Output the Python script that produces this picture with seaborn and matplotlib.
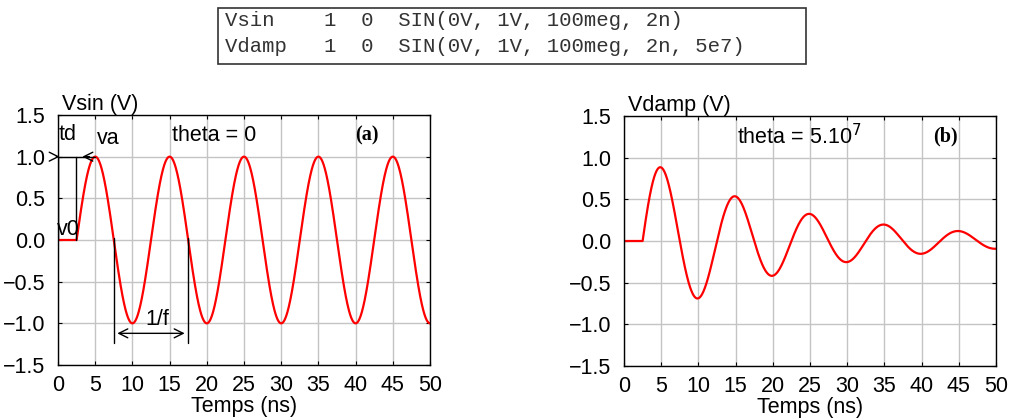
import numpy as np
import pandas as pd
import seaborn as sns
import matplotlib
matplotlib.use("Agg")
import matplotlib.pyplot as plt
from matplotlib.patches import Rectangle

# SPICE SIN source parameters for the two waveforms
sources = ["Vsin", "Vdamp"]
v0 = [0.0, 0.0]              # offset (V)
va = [1.0, 1.0]              # amplitude (V)
freq_hz = [100e6, 100e6]     # frequency
td_ns = [2.5, 2.5]           # delay before the sine starts
theta = [0.0, 5e7]           # damping factor (1/s)

netlist = [
    "Vsin    1  0  SIN(0V, 1V, 100meg, 2n)",
    "Vdamp   1  0  SIN(0V, 1V, 100meg, 2n, 5e7)",
]
ylabels = ["Vsin (V)", "Vdamp (V)"]
xticks = [0, 5, 10, 15, 20, 25, 30, 35, 40, 45, 50]
yticks = [-1.5, -1.0, -0.5, 0.0, 0.5, 1.0, 1.5]

t_ns = np.linspace(0, 50, 2001)


def spice_sin(t, off, amp, f, td, th):
    """Transient value of a SPICE SIN(VO VA FREQ TD THETA) source, t in ns."""
    tt = (t - td) * 1e-9
    v = off + amp * np.exp(-tt * th) * np.sin(2 * np.pi * f * tt)
    return np.where(t < td, off, v)


frames = []
for i, name in enumerate(sources):
    frames.append(pd.DataFrame({
        "t": t_ns,
        "v": spice_sin(t_ns, v0[i], va[i], freq_hz[i], td_ns[i], theta[i]),
        "source": name,
    }))
data = pd.concat(frames, ignore_index=True)

sns.set_style("whitegrid", {"grid.color": "#c4c4c4", "axes.edgecolor": "black"})
plt.rcParams["font.family"] = ["Liberation Sans", "DejaVu Sans"]
plt.rcParams["axes.unicode_minus"] = True
plt.rcParams["text.color"] = "black"
plt.rcParams["xtick.color"] = "black"
plt.rcParams["ytick.color"] = "black"
plt.rcParams["axes.labelcolor"] = "black"

FS = 15.5

fig = plt.figure(figsize=(10.09, 4.19), dpi=100)
W, H = 1009, 419


def add_axes_px(x0, y0, x1, y1):
    return fig.add_axes([x0 / W, 1 - y1 / H, (x1 - x0) / W, (y1 - y0) / H])


axes = [add_axes_px(58, 115, 430, 365), add_axes_px(624, 116, 996, 366)]

for i, ax in enumerate(axes):
    sub = data[data["source"] == sources[i]]
    sns.lineplot(data=sub, x="t", y="v", ax=ax, color="#ff0000", linewidth=1.6,
                 legend=False)
    ax.set_xlim(0, 50)
    ax.set_ylim(-1.5, 1.5)
    ax.set_xticks(xticks)
    ax.set_yticks(yticks)
    ax.set_xticklabels([str(x) for x in xticks])
    ax.set_yticklabels([f"{y:.1f}".replace("-", "\u2212") for y in yticks])
    ax.grid(True, color="#c4c4c4", linewidth=1.0)
    ax.tick_params(axis="both", which="both", direction="in", length=3,
                   width=0.8, color="black", labelsize=FS, top=True, right=True,
                   left=True, bottom=True)
    ax.tick_params(axis="y", pad=9)
    ax.tick_params(axis="x", pad=7)
    for s in ax.spines.values():
        s.set_color("black")
        s.set_linewidth(1.0)
    ax.set_xlabel("Temps (ns)", fontsize=FS, labelpad=0)
    ax.set_ylabel("")
    ax.text(0.01, 1.0, ylabels[i], transform=ax.transAxes, fontsize=FS,
            ha="left", va="bottom")

# Panel (a) annotations
a = axes[0]
a.text(0.1, 1.27, "td", fontsize=FS, va="center", ha="left")
a.text(5.2, 1.22, "va", fontsize=FS, va="center", ha="left")
a.text(15.3, 1.26, "theta = 0", fontsize=FS, va="center", ha="left")
a.text(40.0, 1.26, "(a)", fontsize=FS - 1, va="center", ha="left",
       family="Liberation Serif", fontweight="bold")
a.text(-0.15, 0.0, "v0", fontsize=FS, va="bottom", ha="left")
a.text(11.8, -0.95, "1/f", fontsize=FS, va="center", ha="left")

blk = dict(color="black", linewidth=1.0)
a.plot([0, 5], [1.0, 1.0], **blk)
a.plot([2.45, 2.45], [0.0, 1.0], **blk)
a.plot([0.05, 0.05], [0.0, 1.0], **blk)
a.plot([7.5, 7.5], [0.03, -1.24], **blk)
a.plot([17.5, 17.5], [0.03, -1.24], **blk)
arrow = dict(arrowstyle="->", color="black", lw=1.0, mutation_scale=16)
a.annotate("", xy=(0.6, 1.0), xytext=(-0.6, 1.0), arrowprops=arrow,
           annotation_clip=False)
a.annotate("", xy=(2.9, 1.0), xytext=(4.6, 1.0), arrowprops=arrow)
a.annotate("", xy=(7.6, -1.12), xytext=(17.4, -1.12),
           arrowprops=dict(arrowstyle="<->", color="black", lw=1.0,
                           mutation_scale=16))

# Panel (b) annotations
b = axes[1]
b.text(15.2, 1.25, r"theta = 5.10$^{7}$", fontsize=FS, va="center", ha="left")
b.text(41.5, 1.26, "(b)", fontsize=FS - 1, va="center", ha="left",
       family="Liberation Serif", fontweight="bold")

# Netlist box
fig.add_artist(Rectangle((218 / W, 1 - 64 / H), (806 - 218) / W, (64 - 8) / H,
                         transform=fig.transFigure, fill=False,
                         edgecolor="#333333", linewidth=1.2))
for k, line in enumerate(netlist):
    fig.text(225 / W, 1 - (20 + 26 * k) / H, line, fontsize=14.9,
             family="Liberation Mono", va="center", ha="left", color="#333333")

fig.savefig("out.png", dpi=100)
